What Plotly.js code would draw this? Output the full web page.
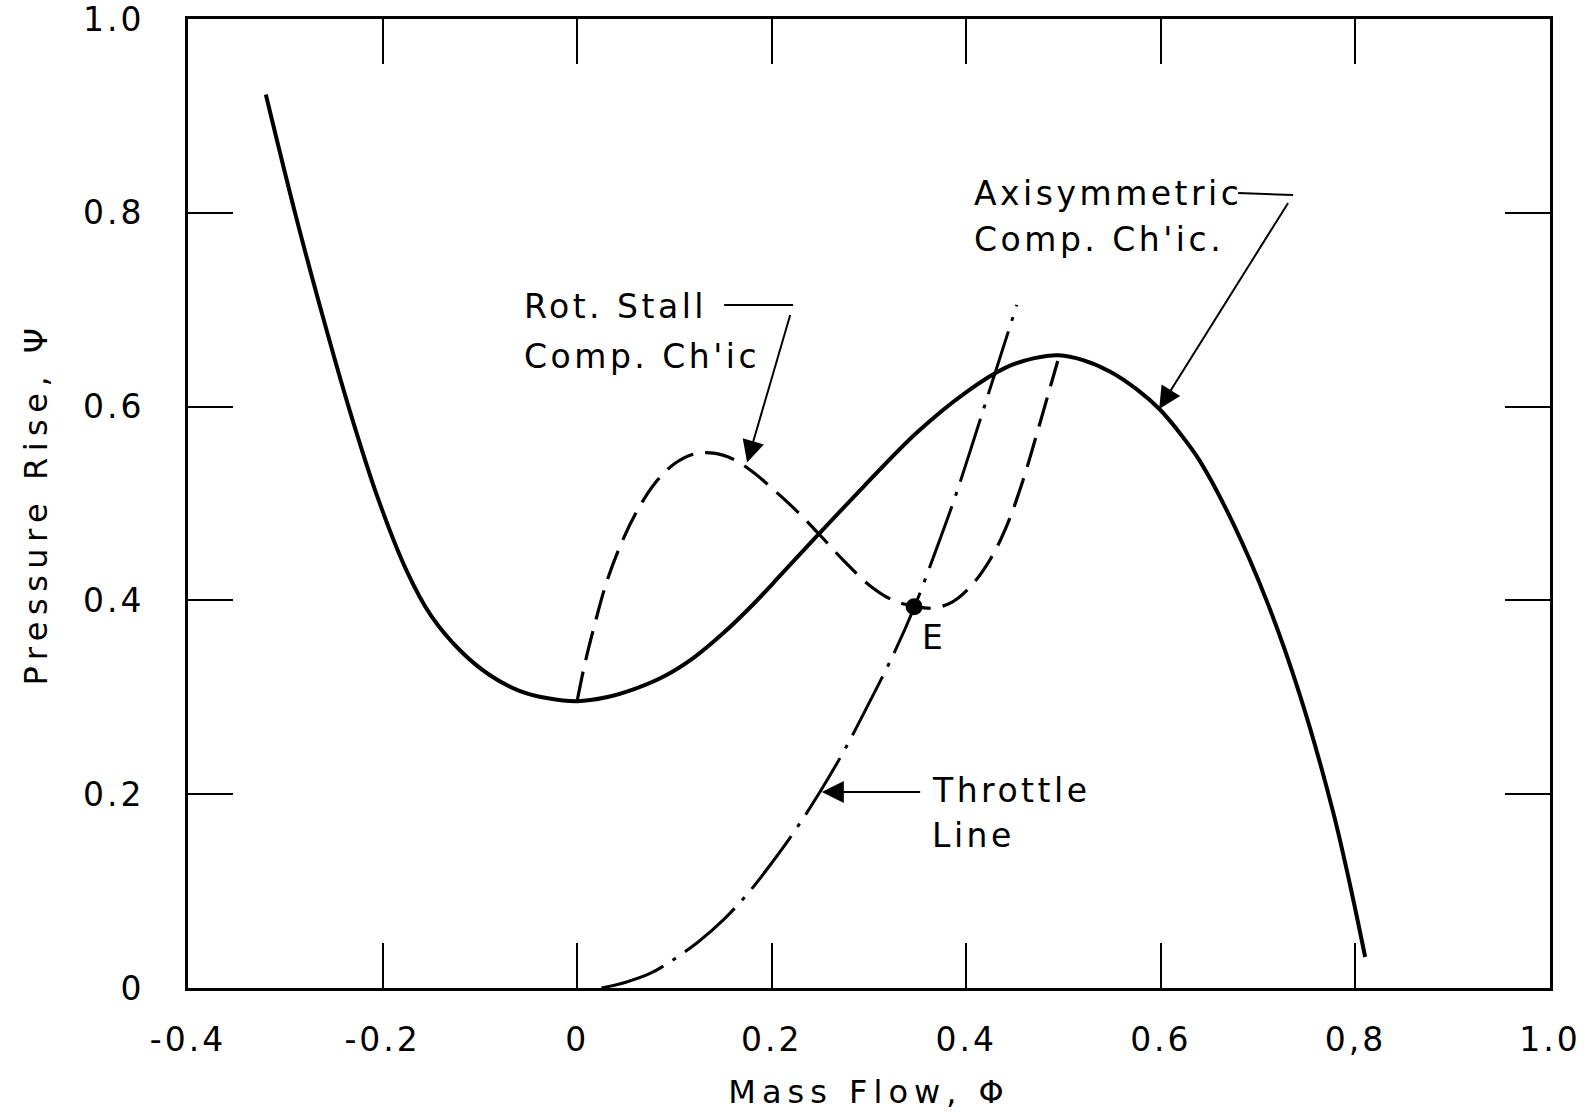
<!DOCTYPE html>
<html>
<head>
<meta charset="utf-8">
<script src="https://cdn.plot.ly/plotly-3.0.1.min.js"></script>
<style>
  html, body { margin: 0; padding: 0; background: #fff; }
  #chart { width: 1594px; height: 1120px; }
  .xtick text, .ytick text { letter-spacing: 3px; }
  .annotation-text { letter-spacing: 3.5px; }
  .xtitle { letter-spacing: 6px; }
  .ytitle { letter-spacing: 6.5px; }
</style>
</head>
<body>
<div id="chart"></div>
<script>
// ---- Data ----
// Axisymmetric compressor characteristic (solid)
const axiPhi = [-0.320, -0.290, -0.262, -0.235, -0.205, -0.175, -0.150, -0.120, -0.090, -0.060, -0.030, 0.000, 0.030, 0.060, 0.090, 0.120, 0.150, 0.180, 0.210, 0.247, 0.295, 0.349, 0.400, 0.440, 0.470, 0.495, 0.520, 0.548, 0.575, 0.599, 0.620, 0.640, 0.675, 0.709, 0.743, 0.777, 0.795, 0.810];
const axiPsi = [0.922, 0.800, 0.695, 0.600, 0.506, 0.430, 0.384, 0.348, 0.323, 0.307, 0.299, 0.296, 0.300, 0.309, 0.322, 0.341, 0.366, 0.395, 0.427, 0.467, 0.518, 0.573, 0.615, 0.640, 0.650, 0.653, 0.648, 0.636, 0.618, 0.597, 0.572, 0.544, 0.478, 0.399, 0.302, 0.182, 0.104, 0.032];

// Rotating-stall compressor characteristic (dashed)
const stallPhi = [0.000, 0.008, 0.018, 0.030, 0.045, 0.062, 0.080, 0.100, 0.120, 0.140, 0.160, 0.180, 0.200, 0.225, 0.250, 0.275, 0.300, 0.325, 0.347, 0.365, 0.385, 0.405, 0.425, 0.442, 0.458, 0.472, 0.484, 0.494];
const stallPsi = [0.296, 0.335, 0.375, 0.418, 0.458, 0.493, 0.521, 0.541, 0.551, 0.552, 0.546, 0.533, 0.516, 0.493, 0.467, 0.440, 0.416, 0.400, 0.394, 0.392, 0.398, 0.415, 0.443, 0.478, 0.523, 0.570, 0.612, 0.647];

// Throttle line (dash-dot)
const throttlePhi = [0.025, 0.050, 0.075, 0.100, 0.125, 0.150, 0.175, 0.200, 0.225, 0.250, 0.275, 0.300, 0.325, 0.347, 0.370, 0.390, 0.410, 0.430, 0.452];
const throttlePsi = [0.000, 0.006, 0.015, 0.030, 0.048, 0.070, 0.097, 0.129, 0.164, 0.203, 0.246, 0.294, 0.344, 0.394, 0.455, 0.511, 0.573, 0.636, 0.705];

// Operating point E
const pointE_phi = [0.3464];
const pointE_psi = [0.3935];

// Tick labels
const xTickVals = [-0.4, -0.2, 0, 0.2, 0.4, 0.6, 0.8, 1.0];
const xTickText = ['-0.4', '-0.2', '0', '0.2', '0.4', '0.6', '0,8', '1.0'];
const yTickVals = [0, 0.2, 0.4, 0.6, 0.8, 1.0];
const yTickText = ['0', '0.2', '0.4', '0.6', '0.8', '1.0'];

// Label texts
const rotStallLines = ['Rot. Stall', "Comp. Ch'ic"];
const axiLines = ['Axisymmetric', "Comp. Ch'ic."];
const throttleLines = ['Throttle', 'Line'];
const pointLabel = 'E';

// ---- Plot ----
const FONT = 'DejaVu Sans, Liberation Sans, sans-serif';

const traces = [
  { x: axiPhi, y: axiPsi, mode: 'lines', line: { color: '#000', width: 4, shape: 'spline', smoothing: 1 }, hoverinfo: 'skip', showlegend: false },
  { x: stallPhi, y: stallPsi, mode: 'lines', line: { color: '#000', width: 3.2, dash: '30px,12px', shape: 'spline', smoothing: 1 }, hoverinfo: 'skip', showlegend: false },
  { x: throttlePhi, y: throttlePsi, mode: 'lines', line: { color: '#000', width: 3, dash: '66px,11px,4px,11px', shape: 'spline', smoothing: 1 }, hoverinfo: 'skip', showlegend: false },
  { x: pointE_phi, y: pointE_psi, mode: 'markers', marker: { color: '#000', size: 17 }, hoverinfo: 'skip', showlegend: false }
];

function textAnn(x, y, text) {
  return { x: x, y: y, xref: 'x', yref: 'y', text: text, showarrow: false, xanchor: 'left', yanchor: 'middle',
           font: { family: FONT, size: 33, color: '#000' } };
}
function arrowAnn(tipX, tipY, tailX, tailY) {
  return { x: tipX, y: tipY, ax: tailX, ay: tailY, xref: 'x', yref: 'y', axref: 'x', ayref: 'y', text: ' ',
           showarrow: true, arrowhead: 2, arrowsize: 2.2, arrowwidth: 2, arrowcolor: '#000', standoff: 0, startstandoff: 0 };
}

const annotations = [
  textAnn(-0.057, 0.703, rotStallLines[0]),
  textAnn(-0.057, 0.652, rotStallLines[1]),
  textAnn(0.406, 0.820, axiLines[0]),
  textAnn(0.406, 0.772, axiLines[1]),
  textAnn(0.363, 0.204, throttleLines[0]),
  textAnn(0.363, 0.157, throttleLines[1]),
  textAnn(0.352, 0.362, pointLabel),
  arrowAnn(0.1747, 0.5423, 0.222, 0.7048),
  arrowAnn(0.5983, 0.5976, 0.7359, 0.8184),
  arrowAnn(0.2515, 0.2023, 0.3577, 0.2023)
];

const shapes = [
  { type: 'line', xref: 'x', yref: 'y', x0: 0.1511, y0: 0.7048, x1: 0.222, y1: 0.7048, line: { color: '#000', width: 2 } },
  { type: 'line', xref: 'x', yref: 'y', x0: 0.6794, y0: 0.8204, x1: 0.7359, y1: 0.8184, line: { color: '#000', width: 2 } }
];

const axisCommon = {
  ticks: 'inside', ticklen: 45, tickwidth: 2, tickcolor: '#000',
  showline: true, linewidth: 3, linecolor: '#000', mirror: 'ticks',
  showgrid: false, zeroline: false, fixedrange: true,
  ticklabeloverflow: 'allow',
  tickfont: { family: FONT, size: 33, color: '#000' }
};

const layout = {
  width: 1594, height: 1120,
  margin: { l: 188, r: 44, t: 19, b: 132 },
  paper_bgcolor: '#fff', plot_bgcolor: '#fff',
  xaxis: Object.assign({}, axisCommon, {
    range: [-0.4, 1.0], tickmode: 'array', tickvals: xTickVals, ticktext: xTickText,
    ticklabelstandoff: 20,
    title: { text: 'Mass Flow, Φ', font: { family: FONT, size: 32, color: '#000' }, standoff: 24 }
  }),
  yaxis: Object.assign({}, axisCommon, {
    range: [0, 1.0], tickmode: 'array', tickvals: yTickVals, ticktext: yTickText,
    ticklabelstandoff: 34,
    title: { text: 'Pressure Rise, Ψ', font: { family: FONT, size: 32, color: '#000' }, standoff: 26 }
  }),
  annotations: annotations,
  shapes: shapes,
  showlegend: false
};

Plotly.newPlot('chart', traces, layout, { staticPlot: true, displayModeBar: false });
</script>
</body>
</html>
